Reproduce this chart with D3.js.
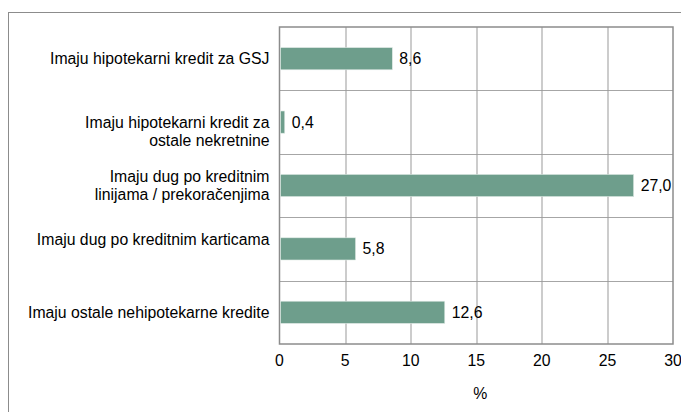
<!DOCTYPE html>
<html>
<head>
<meta charset="utf-8">
<script src="https://cdn.jsdelivr.net/npm/d3@7"></script>
<style>
  body { margin: 0; background: #fff; }
  svg { display: block; font-family: "Liberation Sans", Arial, sans-serif; }
</style>
</head>
<body>
<svg id="chart"></svg>
<script>
const WIDTH = 681
const HEIGHT = 412

// category labels, split into lines as in the original (empty lines kept)
const categories = [
    ['Imaju hipotekarni kredit za GSJ'],
    ['', 'Imaju hipotekarni kredit za', 'ostale nekretnine '],
    ['Imaju dug po kreditnim', 'linijama / prekoračenjima'],
    ['Imaju dug po kreditnim karticama', ''],
    ['Imaju ostale nehipotekarne kredite']
]
const values = [8.6, 0.4, 27.0, 5.8, 12.6]
const xTicks = [0, 5, 10, 15, 20, 25, 30]
const xTitle = '%'

const FS = 15.8

const margin = { top: 27, right: 8, bottom: 68, left: 279.5 }
const innerW = WIDTH - margin.left - margin.right
const innerH = HEIGHT - margin.top - margin.bottom

const data = categories.map((c, i) => ({ lines: c, value: values[i] }))

const svg = d3.select('#chart')
    .attr('width', WIDTH)
    .attr('height', HEIGHT)

// outer frame
svg.append('rect')
    .attr('x', 8.5)
    .attr('y', 12.5)
    .attr('width', 720)
    .attr('height', 500)
    .attr('fill', 'none')
    .attr('stroke', '#8c8c8c')

const g = svg.append('g')
    .attr('transform', `translate(${margin.left}, ${margin.top})`)

const x = d3.scaleLinear().domain([0, 30]).range([0, innerW])
const y = d3.scaleBand().domain(d3.range(data.length)).range([0, innerH])

// horizontal grid (band separators)
g.selectAll('.hgrid')
    .data(d3.range(1, data.length))
    .join('line')
    .attr('class', 'hgrid')
    .attr('x1', 0)
    .attr('x2', innerW)
    .attr('y1', d => Math.round(y(d)) + 0.5)
    .attr('y2', d => Math.round(y(d)) + 0.5)
    .attr('stroke', '#a6a6a6')

// vertical grid
g.selectAll('.vgrid')
    .data(xTicks.slice(1, -1))
    .join('line')
    .attr('class', 'vgrid')
    .attr('x1', d => Math.round(x(d)) + 0.5)
    .attr('x2', d => Math.round(x(d)) + 0.5)
    .attr('y1', 0)
    .attr('y2', innerH)
    .attr('stroke', '#999')

// plot border
g.append('rect')
    .attr('x', 0)
    .attr('y', 0)
    .attr('width', innerW)
    .attr('height', innerH)
    .attr('fill', 'none')
    .attr('stroke', '#8c8c8c')
    .attr('stroke-width', 1.5)

const barH = y.bandwidth() * 0.35

g.selectAll('.bar')
    .data(data)
    .join('rect')
    .attr('class', 'bar')
    .attr('x', 1)
    .attr('y', (d, i) => y(i) + (y.bandwidth() - barH) / 2)
    .attr('width', d => x(d.value) - 1)
    .attr('height', barH)
    .attr('fill', '#6e9e8c')
    .attr('stroke', '#dfeae5')
    .attr('stroke-width', 0.6)

const fmt = v => d3.format('.1f')(v).replace('.', ',')

g.selectAll('.val')
    .data(data)
    .join('text')
    .attr('class', 'val')
    .attr('x', d => x(d.value) + 7)
    .attr('y', (d, i) => y(i) + y.bandwidth() / 2)
    .attr('dy', '0.35em')
    .attr('font-size', FS)
    .attr('fill', '#000')
    .text(d => fmt(d.value))

// category labels
const lineH = 18.5
const labels = g.selectAll('.cat')
    .data(data)
    .join('text')
    .attr('class', 'cat')
    .attr('text-anchor', 'end')
    .attr('font-size', FS)
    .attr('fill', '#000')

labels.each(function (d, i) {
    const n = d.lines.length
    const cy = y(i) + y.bandwidth() / 2
    d3.select(this)
        .selectAll('tspan')
        .data(d.lines)
        .join('tspan')
        .attr('x', -10)
        .attr('y', (l, j) => cy + (j - (n - 1) / 2) * lineH)
        .attr('dy', '0.35em')
        .text(l => l)
})

// x tick labels
g.selectAll('.xt')
    .data(xTicks)
    .join('text')
    .attr('class', 'xt')
    .attr('x', d => x(d))
    .attr('y', innerH + 16)
    .attr('dy', '0.35em')
    .attr('text-anchor', 'middle')
    .attr('font-size', FS)
    .attr('fill', '#000')
    .text(d => d)

g.append('text')
    .attr('x', x(15) + 4)
    .attr('y', innerH + 49)
    .attr('dy', '0.35em')
    .attr('text-anchor', 'middle')
    .attr('font-size', FS)
    .attr('fill', '#000')
    .text(xTitle)
</script>
</body>
</html>
